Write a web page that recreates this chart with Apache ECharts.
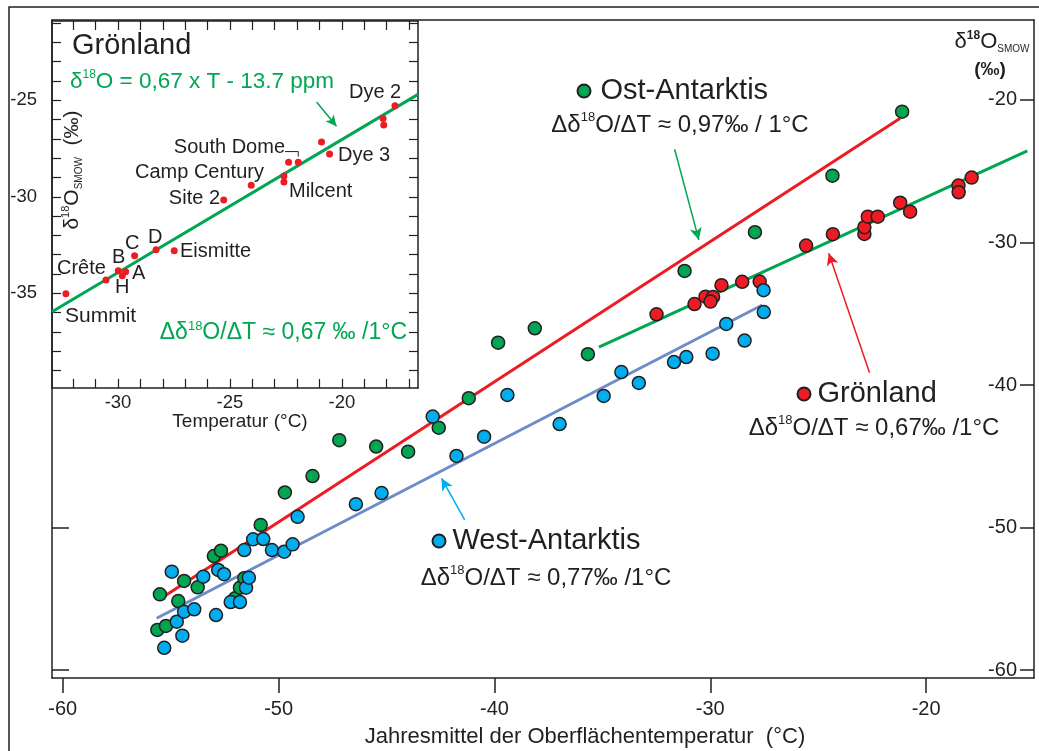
<!DOCTYPE html>
<html><head><meta charset="utf-8">
<script src="https://cdn.jsdelivr.net/npm/echarts@6/dist/echarts.min.js"></script>
<style>html,body{margin:0;padding:0;background:#fff}#c{width:1039px;height:751px}</style>
</head><body><div id="c"></div>
<script>
// ---------------- data ----------------
// [Jahresmittel der Oberflächentemperatur °C, δ18O ‰]
const ostAntarktis = [[-55.62,-57.19],[-55.22,-56.91],[-55.50,-54.69],[-54.65,-55.16],[-54.38,-53.75],[-53.75,-54.20],[-53.00,-52.00],[-52.67,-51.63],[-52.02,-54.97],[-51.79,-54.22],[-51.59,-53.56],[-50.83,-49.82],[-49.71,-47.54],[-48.43,-46.39],[-47.19,-43.87],[-45.48,-44.32],[-44.00,-44.68],[-42.58,-43.00],[-41.19,-40.93],[-39.83,-37.03],[-38.13,-36.02],[-35.67,-37.84],[-31.19,-32.00],[-27.93,-29.28],[-24.34,-25.31],[-21.11,-20.82]];
const westAntarktis = [[-55.30,-58.44],[-54.46,-57.59],[-54.72,-56.61],[-54.38,-55.91],[-53.91,-55.74],[-54.95,-53.10],[-53.49,-53.45],[-52.90,-56.14],[-52.80,-52.98],[-52.53,-53.28],[-52.22,-55.23],[-51.79,-55.23],[-51.51,-54.22],[-51.38,-53.52],[-51.59,-51.58],[-51.18,-50.83],[-50.71,-50.81],[-50.31,-51.58],[-49.74,-51.70],[-49.35,-51.18],[-49.12,-49.25],[-46.42,-48.36],[-45.23,-47.58],[-42.86,-42.22],[-41.76,-44.98],[-40.48,-43.63],[-39.40,-40.70],[-36.98,-42.74],[-34.94,-40.77],[-34.12,-39.09],[-33.31,-39.86],[-31.68,-38.39],[-31.11,-38.04],[-29.89,-37.80],[-28.41,-36.88],[-29.26,-35.72],[-27.52,-34.88],[-27.53,-33.35]];
const groenland = [[-32.49,-35.04],[-30.73,-34.32],[-30.22,-33.80],[-29.87,-33.82],[-29.99,-34.15],[-29.48,-33.00],[-28.52,-32.76],[-27.71,-32.74],[-25.56,-30.22],[-24.32,-29.42],[-22.86,-29.40],[-22.86,-28.93],[-22.70,-28.19],[-22.24,-28.19],[-21.20,-27.21],[-20.74,-27.84],[-18.50,-26.01],[-18.49,-26.48],[-17.89,-25.45]];
// regression lines (end points)
const fitOst = [[-55.26,-54.79],[-21.20,-21.28]];
const fitWest = [[-55.65,-56.37],[-27.59,-34.39]];
const fitGroenland = [[-35.16,-37.35],[-15.31,-23.58]];
// inset: Grönland stations [Temperatur °C, δ18O ‰]
const insetStations = [[-32.33,-35.02],[-30.54,-34.31],[-29.99,-33.83],[-29.81,-34.09],[-29.66,-33.88],[-29.26,-33.05],[-28.30,-32.74],[-27.49,-32.79],[-25.28,-30.17],[-24.05,-29.40],[-22.59,-28.92],[-22.59,-29.24],[-22.38,-28.21],[-21.95,-28.21],[-20.91,-27.16],[-20.55,-27.79],[-18.16,-25.95],[-18.13,-26.29],[-17.63,-25.29]];
const insetFit = [[-32.95,-35.95],[-16.6,-24.70]];
const southDomeBracket = [[-22.54,-27.66],[-21.95,-27.66],[-21.95,-27.92]];
// annotation arrows [from, to] in data units
const arrowOst = [[-31.65,-23.46],[-30.53,-29.82]];
const arrowGroenland = [[-22.62,-39.14],[-24.51,-30.76]];
const arrowWest = [[-41.38,-49.47],[-42.45,-46.55]];
const arrowInset = [[-21.13,-25.09],[-20.24,-26.35]];
// ticks
const mainXTicks = [-60,-50,-40,-30,-20];
const mainYTicks = [-60,-50,-40,-30,-20];
const mainLeftTicks = [-60,-50];
const insetXTicks = [-32,-31,-30,-29,-28,-27,-26,-25,-24,-23,-22,-21,-20,-19,-18,-17];
const insetYTicks = [-39,-38,-37,-36,-35,-34,-33,-32,-31,-30,-29,-28,-27,-26,-25,-24,-23,-22,-21];
const insetXLabels = [-30,-25,-20];
const insetYLabels = [-35,-30,-25];
const seriesNames = ['Ost-Antarktis','Grönland','West-Antarktis'];

// ---------------- styling ----------------
const FONT = "'Liberation Sans', Arial, Helvetica, sans-serif";
const INK = '#231f20';
const GREEN = '#00a651', RED = '#ed1c24', BLUE = '#00aeef', STEEL = '#6d8cc9';

const chart = echarts.init(document.getElementById('c'), null, {renderer:'canvas'});

function axisLine(){ return {show:true, onZero:false, lineStyle:{color:INK, width:1.5}}; }
function txt(x, y, text, o){
  return {type:'text', x:x, y:y, z:100, silent:true,
    style:Object.assign({text:text, fill:INK, fontSize:20, fontFamily:FONT, align:'left', verticalAlign:'middle'}, o||{})};
}
function ratio(x, y, body, color, size, align){
  return {type:'text', x:x, y:y, z:100, silent:true,
    style:{text:'{n|Δδ}{s|18}{n|'+body+'}', align:align||'center', verticalAlign:'middle',
      rich:{n:{fontSize:size, fontFamily:FONT, fill:color, lineHeight:size+4},
            s:{fontSize:Math.round(size*0.55), fontFamily:FONT, fill:color, lineHeight:Math.round(size*0.7), verticalAlign:'top'}}}};
}
function arrowLine(pts, color){
  return [{coord:pts[0], lineStyle:{color:color, width:1.5, type:'solid'}}, {coord:pts[1]}];
}
const legendBase = {orient:'horizontal', padding:0, itemWidth:13, itemHeight:13, icon:'circle', selectedMode:false,
  textStyle:{fontSize:29, fontFamily:FONT, color:INK, lineHeight:30}};

const option = {
  animation:false,
  backgroundColor:'#fff',
  grid:[
    {left:52, top:20, right:5, bottom:73, show:false},
    {left:52, top:21, width:366, height:367, show:true, backgroundColor:'#fff', borderWidth:0}
  ],
  legend:[
    Object.assign({}, legendBase, {data:[seriesNames[0]], left:576.5, top:76, textStyle:Object.assign({}, legendBase.textStyle, {padding:[0,0,0,5]})}),
    Object.assign({}, legendBase, {data:[seriesNames[1]], left:796.5, top:379, textStyle:Object.assign({}, legendBase.textStyle, {padding:[0,0,0,2]})}),
    Object.assign({}, legendBase, {data:[seriesNames[2]], left:431.5, top:526, textStyle:Object.assign({}, legendBase.textStyle, {padding:[0,0,0,2]})})
  ],
  xAxis:[
    {gridIndex:0, type:'value', min:-60.5, max:-15, position:'bottom', axisLine:axisLine(),
     axisTick:{show:true, inside:false, length:15, customValues:mainXTicks, lineStyle:{color:INK, width:1.5}},
     axisLabel:{customValues:mainXTicks, margin:21, fontSize:20, fontFamily:FONT, color:INK},
     splitLine:{show:false}},
    {gridIndex:0, type:'value', min:-60.5, max:-15, position:'top', axisLine:axisLine(),
     axisTick:{show:false}, axisLabel:{show:false}, splitLine:{show:false}},
    {gridIndex:1, type:'value', min:-32.95, max:-16.6, position:'bottom', axisLine:axisLine(),
     axisTick:{show:true, inside:true, length:9, customValues:insetXTicks, lineStyle:{color:INK, width:1.2}},
     axisLabel:{customValues:insetXLabels, margin:5, fontSize:18.5, fontFamily:FONT, color:INK},
     splitLine:{show:false}},
    {gridIndex:1, type:'value', min:-32.95, max:-16.6, position:'top', axisLine:axisLine(),
     axisTick:{show:true, inside:true, length:9, customValues:insetXTicks, lineStyle:{color:INK, width:1.2}},
     axisLabel:{show:false}, splitLine:{show:false}}
  ],
  yAxis:[
    {gridIndex:0, type:'value', min:-60.56, max:-14.39, position:'right', axisLine:axisLine(),
     axisTick:{show:true, inside:true, length:14, customValues:mainYTicks, lineStyle:{color:INK, width:1.5}},
     axisLabel:{customValues:mainYTicks, inside:true, margin:17, fontSize:20, fontFamily:FONT, color:INK},
     splitLine:{show:false}},
    {gridIndex:0, type:'value', min:-60.56, max:-14.39, position:'left', axisLine:axisLine(),
     axisTick:{show:true, inside:true, length:17, customValues:mainLeftTicks, lineStyle:{color:INK, width:1.5}},
     axisLabel:{show:false}, splitLine:{show:false}},
    {gridIndex:1, type:'value', min:-39.9, max:-20.9, position:'left', axisLine:axisLine(),
     axisTick:{show:true, inside:true, length:9, customValues:insetYTicks, lineStyle:{color:INK, width:1.2}},
     axisLabel:{customValues:insetYLabels, margin:15, fontSize:18.5, fontFamily:FONT, color:INK},
     splitLine:{show:false}},
    {gridIndex:1, type:'value', min:-39.9, max:-20.9, position:'right', axisLine:axisLine(),
     axisTick:{show:true, inside:true, length:9, customValues:insetYTicks, lineStyle:{color:INK, width:1.2}},
     axisLabel:{show:false}, splitLine:{show:false}}
  ],
  series:[
    {name:'fitOst', type:'line', xAxisIndex:0, yAxisIndex:0, data:fitOst, symbol:'none', silent:true,
     lineStyle:{color:RED, width:3}, z:2,
     markLine:{silent:true, symbol:['none','arrow'], symbolSize:[9,12], label:{show:false}, animation:false,
       data:[arrowLine(arrowOst, GREEN), arrowLine(arrowGroenland, RED), arrowLine(arrowWest, BLUE)]}},
    {name:'fitWest', type:'line', xAxisIndex:0, yAxisIndex:0, data:fitWest, symbol:'none', silent:true,
     lineStyle:{color:STEEL, width:3}, z:2},
    {name:'fitGroenland', type:'line', xAxisIndex:0, yAxisIndex:0, data:fitGroenland, symbol:'none', silent:true,
     lineStyle:{color:GREEN, width:3}, z:2},
    {name:seriesNames[0], type:'scatter', xAxisIndex:0, yAxisIndex:0, data:ostAntarktis, symbolSize:13, z:3,
     itemStyle:{color:GREEN, borderColor:INK, borderWidth:1.5, opacity:1}},
    {name:seriesNames[1], type:'scatter', xAxisIndex:0, yAxisIndex:0, data:groenland, symbolSize:13, z:4,
     itemStyle:{color:RED, borderColor:INK, borderWidth:1.5, opacity:1}},
    {name:seriesNames[2], type:'scatter', xAxisIndex:0, yAxisIndex:0, data:westAntarktis, symbolSize:13, z:5,
     itemStyle:{color:BLUE, borderColor:INK, borderWidth:1.5, opacity:1}},
    // inset
    {name:'insetFit', type:'line', xAxisIndex:2, yAxisIndex:2, data:insetFit, symbol:'none', silent:true,
     lineStyle:{color:GREEN, width:3}, z:6,
     markLine:{silent:true, symbol:['none','arrow'], symbolSize:[8,11], label:{show:false}, animation:false,
       data:[arrowLine(arrowInset, GREEN)]}},
    {name:'bracket', type:'line', xAxisIndex:2, yAxisIndex:2, data:southDomeBracket, symbol:'none', silent:true,
     lineStyle:{color:INK, width:1}, z:6},
    {name:'insetStations', type:'scatter', xAxisIndex:2, yAxisIndex:2, data:insetStations, symbolSize:7, z:7,
     itemStyle:{color:RED, borderWidth:0, opacity:1}}
  ],
  graphic:[
    {type:'rect', z:-1, silent:true, shape:{x:9, y:7, width:1100, height:800}, style:{fill:'none', stroke:INK, lineWidth:1.5}},
    // main right axis name
    {type:'text', x:992, y:42, z:100, silent:true, style:{text:'{d|δ}{s|18}{d|O}{b|SMOW}', align:'center', verticalAlign:'middle',
      rich:{d:{fontSize:22, fontFamily:FONT, fill:INK, lineHeight:25}, s:{fontSize:12, fontWeight:'bold', fontFamily:FONT, fill:INK, lineHeight:14, verticalAlign:'top'}, b:{fontSize:10, fontFamily:FONT, fill:INK, lineHeight:14, verticalAlign:'bottom'}}}},
    txt(990, 70, '(‰)', {align:'center', fontSize:19, fontWeight:'bold'}),
    // main axis title
    txt(585, 737, 'Jahresmittel der Oberflächentemperatur  (°C)', {align:'center', fontSize:22}),
    // main annotation ratios
    ratio(680, 125, 'O/ΔT ≈ 0,97‰ / 1°C', INK, 24),
    ratio(874, 428, 'O/ΔT ≈ 0,67‰ /1°C', INK, 24),
    ratio(546, 578, 'O/ΔT ≈ 0,77‰ /1°C', INK, 24),
    // inset texts
    txt(72, 46, 'Grönland', {fontSize:29}),
    {type:'text', x:70, y:82, z:100, silent:true, style:{text:'{n|δ}{s|18}{n|O = 0,67 x T - 13.7 ppm}', align:'left', verticalAlign:'middle',
      rich:{n:{fontSize:22.5, fontFamily:FONT, fill:GREEN, lineHeight:26}, s:{fontSize:12, fontFamily:FONT, fill:GREEN, lineHeight:15, verticalAlign:'top'}}}},
    ratio(407, 333, 'O/ΔT ≈ 0,67 ‰ /1°C', GREEN, 23, 'right'),
    txt(349, 92, 'Dye 2'),
    txt(285, 147, 'South Dome', {align:'right'}),
    txt(338, 155, 'Dye 3'),
    txt(135, 172, 'Camp Century'),
    txt(289, 191, 'Milcent'),
    txt(220, 198, 'Site 2', {align:'right'}),
    txt(148, 237, 'D'),
    txt(125, 243, 'C'),
    txt(180, 251, 'Eismitte'),
    txt(112, 257, 'B'),
    txt(57, 268, 'Crête'),
    txt(132, 273, 'A'),
    txt(115, 287, 'H'),
    txt(65, 316, 'Summit', {fontSize:21}),
    // inset axis names
    txt(240, 422, 'Temperatur (°C)', {align:'center', fontSize:19}),
    {type:'text', x:72, y:170, rotation:Math.PI/2, z:100, silent:true, style:{text:'{d|δ}{s|18}{d|O}{b|SMOW}{d|  (‰)}', align:'center', verticalAlign:'middle',
      rich:{d:{fontSize:21, fontFamily:FONT, fill:INK, lineHeight:24}, s:{fontSize:11, fontFamily:FONT, fill:INK, lineHeight:13, verticalAlign:'top'}, b:{fontSize:10, fontFamily:FONT, fill:INK, lineHeight:13, verticalAlign:'bottom'}}}}
  ]
};
chart.setOption(option);
</script></body></html>
